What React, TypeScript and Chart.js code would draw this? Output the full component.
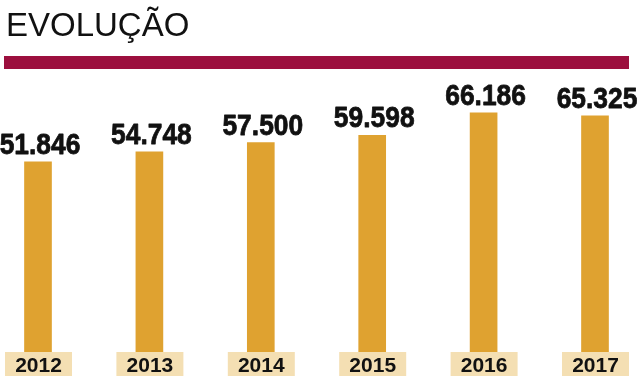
import React, { useEffect, useRef } from "react";
import { Chart, registerables } from "chart.js";

Chart.register(...registerables);

const titleText = "EVOLUÇÃO";
const categories = ["2012", "2013", "2014", "2015", "2016", "2017"];
const values = [51846, 54748, 57500, 59598, 66186, 65325];
const yMin = -3800;
const yMax = 75800;

const fmt = (v: number) => String(v).replace(/\B(?=(\d{3})+(?!\d))/g, ".");

const decorPlugin = {
  id: "decor",
  beforeDraw(chart: any) {
    const { ctx, width, height } = chart;
    ctx.save();
    ctx.fillStyle = "#ffffff";
    ctx.fillRect(0, 0, width, height);
    ctx.fillStyle = "#111111";
    ctx.font = "33px 'Liberation Sans', Arial, sans-serif";
    ctx.textBaseline = "alphabetic";
    ctx.textAlign = "left";
    ctx.fillText(titleText, 6, 36);
    ctx.fillStyle = "#9c0f3e";
    ctx.fillRect(4, 56, 625, 13);
    ctx.restore();
  },
  afterDatasetsDraw(chart: any) {
    const { ctx } = chart;
    const meta = chart.getDatasetMeta(0);
    const xScale = chart.scales.x;
    ctx.save();
    // value labels (condensed heavy look)
    ctx.fillStyle = "#111111";
    ctx.strokeStyle = "#111111";
    ctx.lineWidth = 0.8;
    ctx.lineJoin = "round";
    ctx.font = "bold 30px 'Liberation Sans', Arial, sans-serif";
    ctx.textAlign = "center";
    ctx.textBaseline = "alphabetic";
    const sx = 0.88;
    meta.data.forEach((bar: any, i: number) => {
      const v = chart.data.datasets[0].data[i] as number;
      ctx.save();
      ctx.translate(bar.x + 2, bar.y - 8);
      ctx.scale(sx, 1);
      ctx.fillText(fmt(v), 0, 0);
      ctx.strokeText(fmt(v), 0, 0);
      ctx.restore();
    });
    // category boxes
    const labels = chart.data.labels as string[];
    const top = chart.chartArea.bottom;
    labels.forEach((lab, i) => {
      const cx = xScale.getPixelForValue(i);
      ctx.fillStyle = "#f4dfb3";
      ctx.fillRect(cx - 33, top, 67, 24);
      ctx.fillStyle = "#111111";
      ctx.font = "bold 21px 'Liberation Sans', Arial, sans-serif";
      ctx.textAlign = "center";
      ctx.textBaseline = "alphabetic";
      ctx.fillText(lab, cx + 0.5, top + 20);
    });
    ctx.restore();
  },
};

export default function App() {
  const ref = useRef<HTMLCanvasElement | null>(null);
  useEffect(() => {
    document.body.style.margin = "0";
    const canvas = ref.current;
    if (!canvas) return;
    const chart = new Chart(canvas, {
      type: "bar",
      data: {
        labels: categories,
        datasets: [
          {
            data: values,
            backgroundColor: "#dfa230",
            barThickness: 27,
            base: yMin,
            clip: false,
          } as any,
        ],
      },
      options: {
        animation: false,
        responsive: false,
        maintainAspectRatio: false,
        devicePixelRatio: 1,
        layout: { padding: { left: 38, right: 45, top: 80, bottom: 28 } },
        scales: {
          x: { type: "category", offset: false, display: false },
          y: { display: false, min: yMin, max: yMax },
        },
        plugins: {
          legend: { display: false },
          tooltip: { enabled: false },
          title: { display: false },
        },
      },
      plugins: [decorPlugin],
    });
    return () => chart.destroy();
  }, []);
  return (
    <div style={{ width: 640, height: 380 }}>
      <canvas ref={ref} width={640} height={380} style={{ display: "block" }} />
    </div>
  );
}
